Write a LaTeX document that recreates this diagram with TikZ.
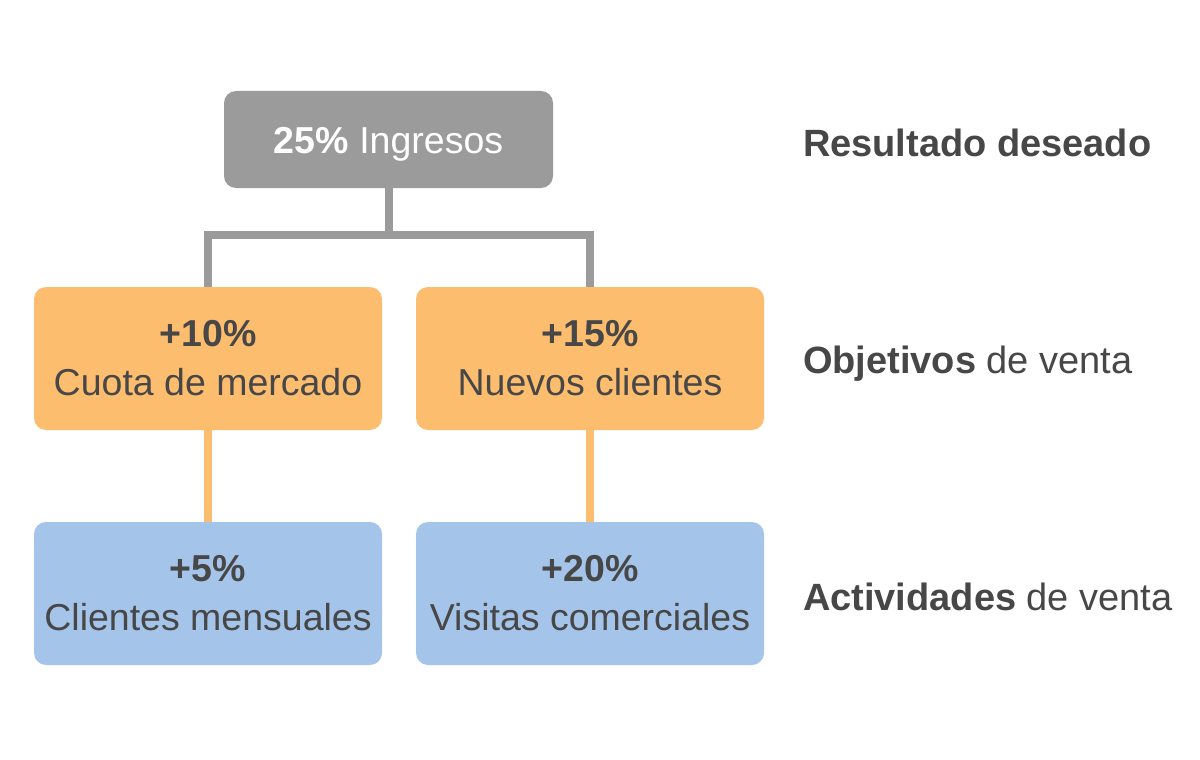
\documentclass[tikz,border=0pt]{standalone}
\usepackage{fontspec}
\setmainfont{Liberation Sans}
\definecolor{boxgray}{HTML}{9B9B9B}
\definecolor{boxorange}{HTML}{FDBD6F}
\definecolor{boxblue}{HTML}{A4C4E9}
\definecolor{txt}{HTML}{474747}
\begin{document}
\begin{tikzpicture}[x=1pt,y=-1pt,
  every node/.style={inner sep=0pt, outer sep=0pt},
  card/.style={rectangle, rounded corners=12pt, minimum width=348pt, minimum height=143pt,
    align=center, text=txt, font=\fontsize{37.5}{49}\selectfont},
  goal/.style={card, fill=boxorange},
  act/.style={card, fill=boxblue},
  topcard/.style={rectangle, rounded corners=12pt, minimum width=329pt, minimum height=97pt,
    fill=boxgray, text=white, text height=27pt, text depth=0pt,
    font=\fontsize{37.5}{44}\selectfont},
  grayline/.style={draw=boxgray, line width=8pt},
  orangeline/.style={draw=boxorange, line width=8pt},
  label/.style={anchor=base west, text=txt, font=\fontsize{38}{44}\selectfont}
]
\useasboundingbox (0,0) rectangle (1200,760);
\fill[white] (0,0) rectangle (1200,760);

\node[topcard] (top) at (388.5,139.5) {\textbf{25\%} Ingresos};

\node[goal] (g1) at (208,358.5) {\textbf{+10\%}\\Cuota de mercado};
\node[goal] (g2) at (590,358.5) {\textbf{+15\%}\\Nuevos clientes};

\node[act] (a1) at (208,593.5) {\textbf{+5\%}\\Clientes mensuales};
\node[act] (a2) at (590,593.5) {\textbf{+20\%}\\Visitas comerciales};

\coordinate (j) at (388.5,235);
\draw[grayline] (top.south) -- (j) -| (g1.north);
\draw[grayline] (j) -| (g2.north);

\draw[orangeline] (g1.south) -- (a1.north);
\draw[orangeline] (g2.south) -- (a2.north);

\node[label] (l1) at (803,156) {\textbf{Resultado deseado}};
\node[label] (l2) at (803,373) {\textbf{Objetivos} de venta};
\node[label] (l3) at (803,610) {\textbf{Actividades} de venta};
\end{tikzpicture}
\end{document}
